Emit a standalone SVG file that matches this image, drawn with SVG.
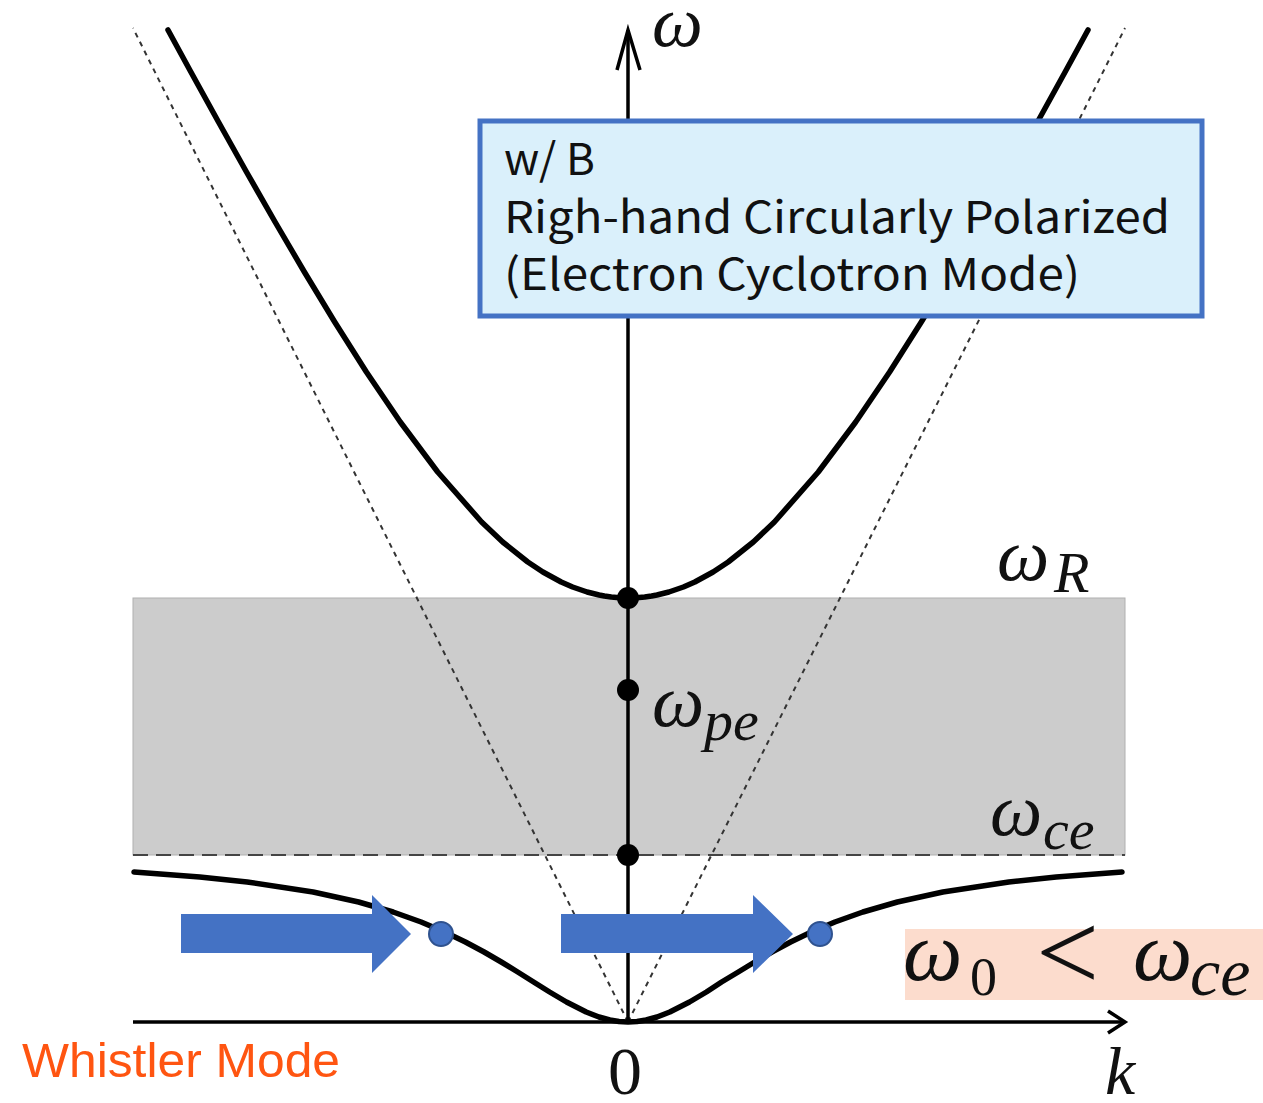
<svg xmlns="http://www.w3.org/2000/svg" width="1263" height="1103" viewBox="0 0 1263 1103">
<style>
.axis{stroke:#000;stroke-width:3.5;fill:none}
.curve{stroke:#000;stroke-width:5.5;fill:none;stroke-linejoin:round;stroke-linecap:round}
.dot{fill:#000}
.math{font-family:"Liberation Serif","DejaVu Serif",serif;font-style:italic;fill:#111}
.mathr{font-family:"Liberation Serif","DejaVu Serif",serif;fill:#111}
.box{font-family:"Noto Sans CJK JP","Noto Sans",sans-serif;font-size:44px;fill:#111}
.blue{fill:#4472C4}
.bdot{fill:#4472C4;stroke:#2F528F;stroke-width:2}
</style>
<rect x="133" y="598" width="992" height="257" fill="#cccccc" stroke="#b0b0b0" stroke-width="1"/>
<g id="connectors">
<line x1="133" y1="855" x2="1125" y2="855" stroke="#444" stroke-width="2" stroke-dasharray="15,8"/>
<line x1="628" y1="1022" x2="133" y2="28" stroke="#333" stroke-width="2" stroke-dasharray="5,5"/>
<line x1="628" y1="1022" x2="1125" y2="28" stroke="#333" stroke-width="2" stroke-dasharray="5,5"/>
<line class="axis" x1="628" y1="1022" x2="628" y2="30"/>
<polyline class="axis" points="617,70 628,30 640,70"/>
<line class="axis" x1="133" y1="1022" x2="1125" y2="1022"/>
<polyline class="axis" points="1108,1011 1125,1022 1108,1033"/>
<polyline class="curve" points="168,30 190.9,72 218.5,122 246.5,172 275.1,222 304.4,272 334.7,322 366.4,372 400.3,422 437.7,472 481.6,522 502.7,542 527.8,562 542.9,572 561.2,582 572.6,587 587.1,592 599.1,595 604.4,596 611.3,597 619.6,597.75 628,598 636.4,597.75 644.7,597 651.6,596 656.9,595 668.9,592 683.4,587 694.8,582 713.1,572 728.2,562 753.3,542 774.4,522 818.3,472 855.7,422 889.6,372 921.3,322 951.6,272 980.9,222 1009.5,172 1037.5,122 1065.1,72 1088,30"/>
<polyline class="curve" points="134,872 199.8,877 247.2,882 313.1,892 358.6,902 393.1,912 421.1,922 444.7,932 465.4,942 484.1,952 501.3,962 517.7,972 533.6,982 549.6,992 566.5,1002 586.2,1012 599,1017 609.9,1020 619,1021.5 628,1022 637,1021.5 646.1,1020 657,1017 669.8,1012 689.5,1002 706.4,992 721.6,982 738.3,972 754.7,962 771.9,952 790.6,942 811.3,932 834.9,922 862.9,912 897.4,902 942.9,892 1008.8,882 1056.2,877 1122,872"/>
</g>
<g id="point-wR"><circle class="dot" cx="628" cy="598" r="11"/></g>
<g id="point-wpe"><circle class="dot" cx="628" cy="690" r="11"/></g>
<g id="point-wce"><circle class="dot" cx="628" cy="855" r="11"/></g>
<g id="labels">
<text class="math" x="652" y="46" font-size="72">ω</text>
<text class="math" x="997" y="580" font-size="74">ω</text>
<text class="math" x="1054" y="592" font-size="58">R</text>
<text class="math" x="652" y="726" font-size="74">ω</text>
<text class="math" x="704" y="740" font-size="58">pe</text>
<text class="math" x="990" y="835" font-size="74">ω</text>
<text class="math" x="1043" y="849" font-size="58">ce</text>
<text class="mathr" x="608" y="1094" font-size="68">0</text>
<text class="math" x="1105" y="1094" font-size="68">k</text>
</g>
<g id="info-box">
<rect x="480" y="121" width="722" height="195" fill="#DAF0FB" stroke="#4472C4" stroke-width="5"/>
<text class="box" x="504" y="175">w/ B</text>
<text class="box" x="504" y="233" textLength="666" lengthAdjust="spacingAndGlyphs">Righ-hand Circularly Polarized</text>
<text class="box" x="504" y="290" textLength="576" lengthAdjust="spacingAndGlyphs">(Electron Cyclotron Mode)</text>
</g>
<g id="arrow-left"><polygon class="blue" points="181,914 372,914 372,895 411,934 372,973 372,953 181,953"/></g>
<g id="arrow-right"><polygon class="blue" points="561,914 753,914 753,895 793,934 753,973 753,953 561,953"/></g>
<g id="wave-left"><circle class="bdot" cx="441" cy="934" r="12"/></g>
<g id="wave-right"><circle class="bdot" cx="820" cy="934" r="12"/></g>
<g id="condition">
<rect x="905" y="929" width="358" height="71" fill="#FCDCCD"/>
<text class="math" x="903" y="980" font-size="84">ω</text>
<text class="mathr" x="970" y="995" font-size="54">0</text>
<text class="mathr" x="1036" y="990" font-size="112">&lt;</text>
<text class="math" x="1133" y="980" font-size="84">ω</text>
<text class="math" x="1190" y="995" font-size="68">ce</text>
</g>
<g id="mode-label">
<text x="22" y="1077" font-family="Liberation Sans Narrow,Liberation Sans,sans-serif" font-size="48" fill="#FF5511" textLength="318" lengthAdjust="spacingAndGlyphs">Whistler Mode</text>
</g>
</svg>
